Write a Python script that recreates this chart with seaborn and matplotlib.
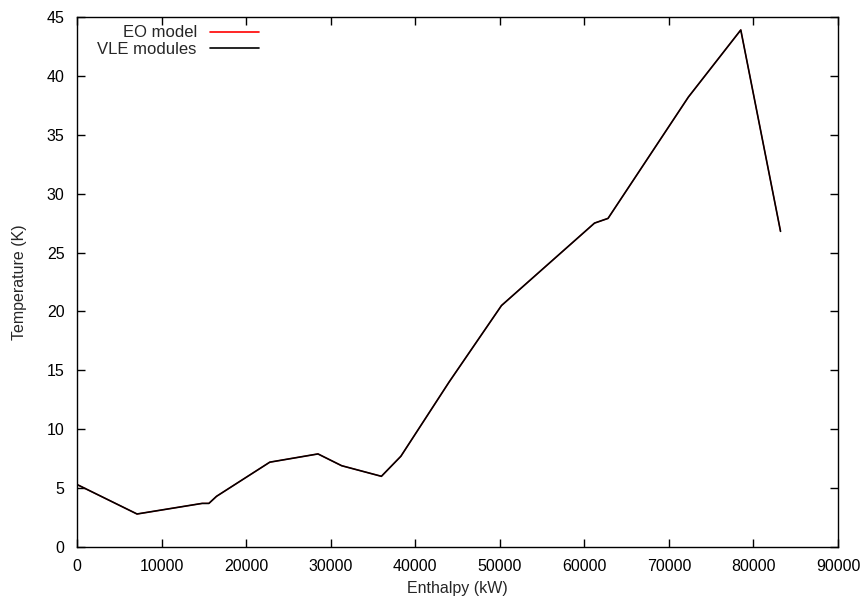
import matplotlib
matplotlib.use("Agg")
import matplotlib.pyplot as plt
import seaborn as sns
import pandas as pd

enthalpy = [0, 0, 300, 7100, 14800, 15600, 16500, 22800, 28500, 31300, 36000,
            38300, 44000, 50200, 61200, 62800, 72300, 78500, 83200]
temperature = [3.7, 5.3, 5.2, 2.8, 3.7, 3.7, 4.3, 7.2, 7.9, 6.9, 6.0,
               7.7, 14.0, 20.5, 27.5, 27.9, 38.2, 43.9, 26.8]
series_names = ["EO model", "VLE modules"]
series_colors = ["#ff0000", "#000000"]

x_ticks = list(range(0, 90001, 10000))
y_ticks = list(range(0, 46, 5))

sns.set_theme(style="ticks")
plt.rcParams['font.family'] = ['Liberation Sans', 'DejaVu Sans']

df = pd.concat([pd.DataFrame({"Enthalpy": enthalpy, "Temperature": temperature, "Series": s})
                for s in series_names], ignore_index=True)

fig = plt.figure(figsize=(8.66, 6.01), dpi=100)
ax = fig.add_axes([0.0889, 0.0899, 0.9677 - 0.0889, 0.9717 - 0.0899])

sns.lineplot(data=df, x="Enthalpy", y="Temperature", hue="Series", hue_order=series_names,
             palette=series_colors, sort=False, estimator=None, linewidth=1.2, ax=ax)
# hide the red fringe of the overlapped EO line
ax.lines[0].set_linewidth(0.9)

ax.set_xlim(0, 90000)
ax.set_ylim(0, 45)
ax.set_xticks(x_ticks)
ax.set_yticks(y_ticks)
ax.set_xticklabels([str(v) for v in x_ticks])
ax.set_xlabel("Enthalpy (kW)", fontsize=11.5, labelpad=5)
ax.set_ylabel("Temperature (K)", fontsize=11.5, labelpad=14)
ax.tick_params(direction="in", top=True, right=True, length=6, width=1, labelsize=11.5,
               colors="black")
ax.tick_params(axis="x", pad=9)
ax.tick_params(axis="y", pad=9)
for s in ax.spines.values():
    s.set_linewidth(1.0)
    s.set_color("black")
ax.set_facecolor("white")

leg = ax.legend(loc="upper left", frameon=False, markerfirst=False, fontsize=12,
                handlelength=2.9, borderaxespad=0.1, bbox_to_anchor=(0.016, 1.0),
                labelspacing=0.1, handletextpad=0.8)
for line in leg.get_lines():
    line.set_linewidth(1.2)
for t in leg.get_texts():
    t.set_ha("right")
leg._legend_box.align = "right"

fig.savefig("out.png", dpi=100)
